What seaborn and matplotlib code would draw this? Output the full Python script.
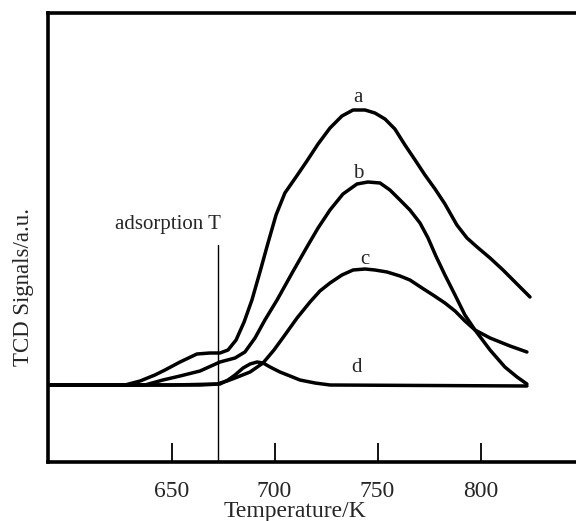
import numpy as np
import pandas as pd
import matplotlib
matplotlib.use("Agg")
import matplotlib.pyplot as plt
import seaborn as sns

# temperature (K) and TCD signal (a.u.), one pair per curve
temp_a = [590.0, 627.4, 634.7, 641.9, 646.8, 654.1, 662.3, 668.6, 673.5, 677.4, 681.3, 685.2,
          689.0, 692.9, 696.8, 700.7, 705.0, 710.4, 715.7, 721.1, 726.9, 732.7, 738.1, 743.9,
          748.7, 753.6, 758.4, 763.3, 768.2, 773.0, 777.9, 782.7, 788.5, 793.4, 798.3, 804.6,
          810.9, 817.2, 824.0]
sig_a = [0.00, 0.00, 0.04, 0.10, 0.15, 0.23, 0.31, 0.32, 0.32, 0.35, 0.45, 0.63,
         0.85, 1.13, 1.42, 1.70, 1.92, 2.08, 2.24, 2.41, 2.57, 2.69, 2.75, 2.75,
         2.72, 2.66, 2.56, 2.40, 2.25, 2.10, 1.96, 1.81, 1.60, 1.47, 1.38, 1.27,
         1.15, 1.02, 0.88]

temp_b = [590.0, 637.1, 645.8, 654.1, 663.8, 673.5, 680.8, 685.6, 690.5, 695.3, 701.2, 708.5,
          715.7, 721.1, 726.9, 733.2, 740.0, 745.3, 751.2, 756.0, 760.9, 765.7, 770.6, 774.5,
          778.3, 782.7, 787.6, 792.4, 797.3, 804.6, 811.8, 817.7, 822.5]
sig_b = [0.00, 0.00, 0.05, 0.09, 0.14, 0.23, 0.27, 0.33, 0.47, 0.65, 0.85, 1.12,
         1.38, 1.57, 1.75, 1.91, 2.01, 2.03, 2.02, 1.95, 1.85, 1.75, 1.62, 1.47,
         1.29, 1.10, 0.90, 0.70, 0.55, 0.35, 0.18, 0.08, 0.01]

temp_c = [590.0, 650.7, 672.0, 676.9, 680.8, 688.1, 694.4, 699.7, 705.0, 710.9, 717.2, 722.0,
          726.9, 732.7, 738.1, 743.9, 748.7, 754.6, 760.9, 765.7, 771.6, 776.9, 782.7, 787.6,
          792.4, 797.3, 804.6, 814.3, 822.5]
sig_c = [0.00, 0.00, 0.01, 0.04, 0.07, 0.13, 0.22, 0.35, 0.50, 0.67, 0.83, 0.94,
         1.02, 1.10, 1.15, 1.16, 1.15, 1.13, 1.09, 1.05, 0.97, 0.90, 0.82, 0.74,
         0.64, 0.55, 0.47, 0.39, 0.33]

temp_d = [590.0, 663.8, 673.5, 677.4, 680.8, 684.7, 688.1, 691.5, 694.4, 697.8, 702.6, 707.5,
          712.3, 719.6, 726.9, 822.5]
sig_d = [0.00, 0.00, 0.01, 0.05, 0.10, 0.17, 0.21, 0.23, 0.22, 0.18, 0.13, 0.09,
         0.05, 0.02, 0.00, -0.01]

curve_names = ["a", "b", "c", "d"]
label_pos = {"a": (740.5, 2.87), "b": (740.5, 2.12), "c": (743.9, 1.25), "d": (740.0, 0.18)}

adsorption_T = 672.6
x_ticks = [650, 700, 750, 800]

frames = []
for name, t, s in zip(curve_names, [temp_a, temp_b, temp_c, temp_d], [sig_a, sig_b, sig_c, sig_d]):
    frames.append(pd.DataFrame({"Temperature": t, "Signal": s, "curve": name}))
df = pd.concat(frames, ignore_index=True)

sns.set_style("white")
plt.rcParams["font.family"] = ["Liberation Serif", "DejaVu Serif"]

fig = plt.figure(figsize=(5.76, 5.21), dpi=100)
W, H = 576, 521
ax = fig.add_axes([48 / W, (H - 462) / H, (578 - 48) / W, (462 - 13) / H])

sns.lineplot(data=df, x="Temperature", y="Signal", units="curve", estimator=None,
             sort=False, color="black", linewidth=2.5, ax=ax,
             solid_joinstyle="round", solid_capstyle="round")

ax.axvline(adsorption_T, ymin=0, ymax=(462 - 245) / (462 - 13), color="black", linewidth=1.0)
ax.text(648.3, 1.60, "adsorption T", fontsize=15, ha="center", va="center")

for name in curve_names:
    x, y = label_pos[name]
    ax.text(x, y, name, fontsize=15, ha="center", va="center")

ax.set_xlim(590.0, 847.3)
ax.set_ylim(-0.77, 3.72)
ax.set_xticks(x_ticks)
ax.set_yticks([])
ax.set_xlabel("")
ax.set_ylabel("")
ax.tick_params(axis="x", direction="in", length=14, width=1.3, pad=14, labelsize=17,
               bottom=True, color="black")

for side in ["left", "bottom", "top", "right"]:
    ax.spines[side].set_color("black")
    ax.spines[side].set_linewidth(2.6)

fig.text(295 / W, (H - 512) / H, "Temperature/K", fontsize=17, ha="center", va="center")
fig.text(24 / W, (H - 287) / H, "TCD Signals/a.u.", fontsize=16.5, ha="center", va="center",
         rotation=90)

fig.savefig("out.png", dpi=100)
